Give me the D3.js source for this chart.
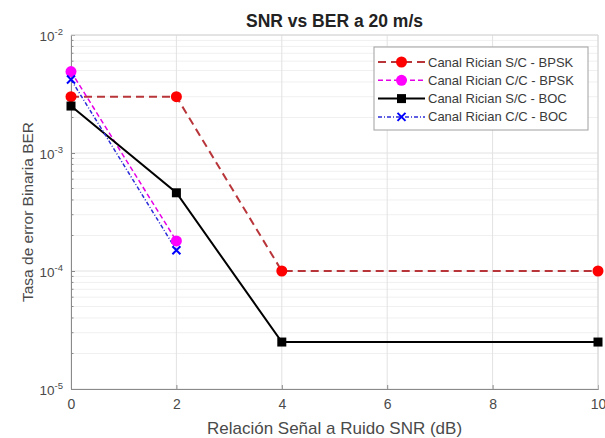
<!DOCTYPE html>
<html>
<head>
<meta charset="utf-8">
<script src="https://cdn.jsdelivr.net/npm/d3@7"></script>
<style>
  body { margin: 0; background: #fff; }
  text { font-family: Arial, "Liberation Sans", sans-serif; }
</style>
</head>
<body>
<div id="container"></div>
<script>
var width = 605, height = 438
var margin = {top: 35, right: 7, bottom: 49, left: 71}

// data
var snr = [0, 2, 4, 10]
var snrCC = [0, 2]
var berSC_BPSK = [3.0e-3, 3.0e-3, 1.0e-4, 1.0e-4]
var berCC_BPSK = [4.9e-3, 1.8e-4]
var berSC_BOC = [2.5e-3, 4.6e-4, 2.5e-5, 2.5e-5]
var berCC_BOC = [4.2e-3, 1.5e-4]
var xTicks = [0, 2, 4, 6, 8, 10]
var yDecades = [1e-5, 1e-4, 1e-3, 1e-2]
var legendLabels = ['Canal Rician S/C - BPSK', 'Canal Rician C/C - BPSK', 'Canal Rician S/C - BOC', 'Canal Rician C/C - BOC']

var series = [
  {x: snr, y: berSC_BPSK, line: '#b8353a', fill: '#ff0000', dash: '8,5', w: 2, marker: 'circle'},
  {x: snrCC, y: berCC_BPSK, line: '#e600e6', fill: '#ff00ff', dash: '5,3', w: 1.5, marker: 'circle'},
  {x: snr, y: berSC_BOC, line: '#000000', fill: '#000000', dash: null, w: 2, marker: 'square'},
  {x: snrCC, y: berCC_BOC, line: '#2b2bd9', fill: '#0000ff', dash: '4,2,1,2', w: 1.5, marker: 'x'}
]

var svg = d3.select('#container').append('svg')
  .attr('width', width)
  .attr('height', height)

var x = d3.scaleLinear().domain([0, 10]).range([margin.left, width - margin.right])
var y = d3.scaleLog().domain([1e-5, 1e-2]).range([height - margin.bottom, margin.top])

var x0 = x.range()[0], x1 = x.range()[1], yb = y.range()[0], yt = y.range()[1]

// minor grid for log axis
var minor = []
yDecades.slice(0, 3).forEach(d => { for (var k = 2; k <= 9; k++) minor.push(d * k) })
svg.append('g').selectAll('line').data(minor).join('line')
  .attr('x1', x0).attr('x2', x1)
  .attr('y1', d => y(d)).attr('y2', d => y(d))
  .attr('stroke', '#f0f0f0').attr('stroke-width', 1)

// major grid
svg.append('g').selectAll('line').data(yDecades).join('line')
  .attr('x1', x0).attr('x2', x1)
  .attr('y1', d => y(d)).attr('y2', d => y(d))
  .attr('stroke', '#e2e2e2').attr('stroke-width', 1)
svg.append('g').selectAll('line').data(xTicks).join('line')
  .attr('x1', d => x(d)).attr('x2', d => x(d))
  .attr('y1', yt).attr('y2', yb)
  .attr('stroke', '#e2e2e2').attr('stroke-width', 1)

// axes
var xAxis = svg.append('g')
  .attr('transform', 'translate(0,' + yb + ')')
  .call(d3.axisBottom(x).tickValues(xTicks).tickSize(-4).tickPadding(10).tickFormat(d3.format('d')))
xAxis.select('.domain').attr('stroke', '#8a8a8a')
xAxis.selectAll('.tick line').attr('stroke', '#8a8a8a')
xAxis.selectAll('text').attr('fill', '#4a4a4a').style('font-size', '14px')

var yAxis = svg.append('g')
  .attr('transform', 'translate(' + x0 + ',0)')
  .call(d3.axisLeft(y).tickValues(yDecades).tickSize(-4).tickPadding(8).tickFormat(''))
yAxis.select('.domain').attr('stroke', '#8a8a8a')
yAxis.selectAll('.tick line').attr('stroke', '#8a8a8a')
// minor ticks on the y axis
svg.append('g').selectAll('line').data(minor).join('line')
  .attr('x1', x0).attr('x2', x0 + 2.5)
  .attr('y1', d => y(d)).attr('y2', d => y(d))
  .attr('stroke', '#8a8a8a')

// y tick labels 10^n
var ylab = svg.append('g').selectAll('text').data(yDecades).join('text')
  .attr('x', x0 - 8)
  .attr('y', d => y(d) + 6)
  .attr('text-anchor', 'end')
  .attr('fill', '#4a4a4a')
  .style('font-size', '13.5px')
ylab.append('tspan').text('10')
ylab.append('tspan').attr('dy', -6).style('font-size', '9.5px').text(d => Math.round(Math.log10(d)))

// box top/right
svg.append('line').attr('x1', x0).attr('x2', x1).attr('y1', yt).attr('y2', yt).attr('stroke', '#d6d6d6')
svg.append('line').attr('x1', x1).attr('x2', x1).attr('y1', yt).attr('y2', yb).attr('stroke', '#d6d6d6')

// lines
series.forEach(s => {
  var pts = s.x.map((v, i) => [x(v), y(s.y[i])])
  svg.append('path')
    .attr('d', d3.line()(pts))
    .attr('fill', 'none')
    .attr('stroke', s.line)
    .attr('stroke-width', s.w)
    .attr('stroke-dasharray', s.dash)
})

function drawMarker(g, s, cx, cy) {
  if (s.marker === 'circle') {
    g.append('circle').attr('cx', cx).attr('cy', cy).attr('r', 5.5).attr('fill', s.fill)
  } else if (s.marker === 'square') {
    g.append('rect').attr('x', cx - 4.5).attr('y', cy - 4.5).attr('width', 9).attr('height', 9).attr('fill', s.fill)
  } else {
    g.append('path')
      .attr('d', 'M' + (cx - 4) + ',' + (cy - 4) + 'L' + (cx + 4) + ',' + (cy + 4) + 'M' + (cx - 4) + ',' + (cy + 4) + 'L' + (cx + 4) + ',' + (cy - 4))
      .attr('stroke', s.fill).attr('stroke-width', 2).attr('fill', 'none')
  }
}

var marks = svg.append('g')
series.forEach(s => {
  s.x.forEach((v, i) => drawMarker(marks, s, x(v), y(s.y[i])))
})

// title and labels
svg.append('text')
  .attr('x', (x0 + x1) / 2).attr('y', 27)
  .attr('text-anchor', 'middle')
  .style('font-size', '17.5px').style('font-weight', 'bold')
  .attr('fill', '#222')
  .text('SNR vs BER a 20 m/s')

svg.append('text')
  .attr('x', (x0 + x1) / 2).attr('y', 434)
  .attr('text-anchor', 'middle')
  .style('font-size', '17px')
  .attr('fill', '#4a4a4a')
  .text('Relación Señal a Ruido SNR (dB)')

svg.append('text')
  .attr('transform', 'translate(33,' + ((yt + yb) / 2) + ') rotate(-90)')
  .attr('text-anchor', 'middle')
  .style('font-size', '15.5px')
  .attr('fill', '#4a4a4a')
  .text('Tasa de error Binaria BER')

// legend
var lg = svg.append('g')
lg.append('rect')
  .attr('x', 374).attr('y', 47).attr('width', 214).attr('height', 83)
  .attr('fill', '#fff').attr('stroke', '#a0a0a0')
series.forEach((s, i) => {
  var ly = 62 + i * 18.3
  lg.append('line')
    .attr('x1', 378).attr('x2', 425).attr('y1', ly).attr('y2', ly)
    .attr('stroke', s.line).attr('stroke-width', s.w)
    .attr('stroke-dasharray', s.dash)
  drawMarker(lg, s, 401.5, ly)
  lg.append('text')
    .attr('x', 428).attr('y', ly + 4.5)
    .style('font-size', '13px')
    .attr('fill', '#3a3a3a')
    .text(legendLabels[i])
})
</script>
</body>
</html>
